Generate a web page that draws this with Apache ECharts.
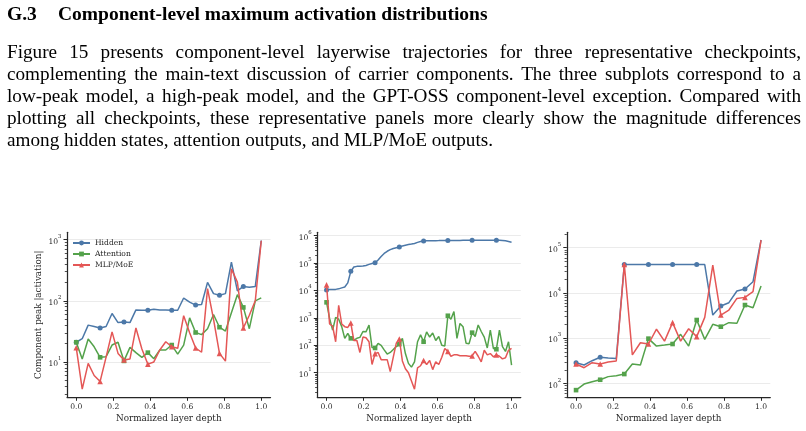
<!DOCTYPE html>
<html>
<head>
<meta charset="utf-8">
<script src="https://cdn.jsdelivr.net/npm/echarts@6/dist/echarts.min.js"></script>
<style>
  html, body { margin: 0; padding: 0; background: #fff; }
  body { width: 806px; height: 431px; position: relative; overflow: hidden; }
  #chart { position: absolute; left: 0; top: 0; width: 806px; height: 431px; }
  .head { position: absolute; left: 7px; top: 3px; font: bold 19.5px "Liberation Serif", serif; line-height: 22px; white-space: nowrap; color: #000; }
  .head span { display: inline-block; width: 51px; }
  .para { position: absolute; left: 7px; top: 41px; width: 794px; font: 19.2px "Liberation Serif", serif; line-height: 22px; color: #000; }
  .para div { white-space: nowrap; text-align: justify; text-align-last: justify; }
  .para div.last { text-align-last: left; }
</style>
</head>
<body>
<div id="chart"></div>
<div class="head"><span>G.3</span>Component-level maximum activation distributions</div>
<div class="para">
  <div>Figure 15 presents component-level layerwise trajectories for three representative checkpoints,</div>
  <div>complementing the main-text discussion of carrier components. The three subplots correspond to a</div>
  <div>low-peak model, a high-peak model, and the GPT-OSS component-level exception. Compared with</div>
  <div>plotting all checkpoints, these representative panels more clearly show the magnitude differences</div>
  <div class="last">among hidden states, attention outputs, and MLP/MoE outputs.</div>
</div>
<script>
// component names and tick values
const componentNames = ['Hidden', 'Attention', 'MLP/MoE']
const xTicks = [0, 0.2, 0.4, 0.6, 0.8, 1.0]

// low-peak model (32 layers)
const lowHidden = [21, 24, 40, 38, 36, 38, 62, 44, 45, 44, 71, 70, 70, 73, 71, 71, 70, 70, 111, 95, 85, 87, 200, 131, 123, 131, 428, 145, 172, 166, 172, 970]
const lowAttention = [21, 11.2, 23.7, 17.7, 11.9, 12.2, 18.9, 21, 10.4, 17.3, 14.2, 11.9, 14.2, 11.3, 15.7, 15.7, 18.9, 13.4, 18.9, 52.6, 30.3, 28, 35, 59.6, 37, 32, 64, 126, 78, 35, 100, 112]
const lowMlp = [17.1, 3.6, 9.5, 6.0, 4.8, 12, 31, 13.8, 10.8, 11.2, 36, 16.3, 9.2, 10, 15.7, 21.4, 17.7, 16.7, 57, 30, 16.9, 14.4, 158, 50, 13.8, 10.3, 333, 202, 36, 58, 100, 960]

// high-peak model (62 layers)
const highHidden = [
  10500, 10800, 11000, 11000, 11500, 12500, 13500, 19000, 50000, 72000,
  76000, 77000, 78000, 82000, 90000, 97000, 103000, 130000, 175000, 225000,
  270000, 310000, 340000, 365000, 390000, 420000, 450000, 475000, 495000, 520000,
  570000, 615000, 640000, 650000, 655000, 660000, 660000, 662000, 665000, 665000,
  668000, 670000, 670000, 672000, 672000, 675000, 675000, 675000, 678000, 678000,
  678000, 680000, 680000, 680000, 680000, 680000, 680000, 675000, 665000, 650000,
  615000, 580000
]
const highAttention = [
  3700, 960, 360, 1050, 900, 480, 180, 270, 180, 155,
  180, 195, 320, 310, 550, 83, 80, 117, 100, 68,
  48, 55, 70, 90, 110, 180, 50, 22, 16, 25,
  135, 240, 135, 310, 200, 280, 150, 210, 100, 95,
  1200, 900, 1700, 180, 630, 480, 120, 115, 290, 210,
  550, 320, 200, 80, 360, 77, 72, 360, 90, 60,
  135, 19
]
const highMlp = [
  16000, 600, 500, 135, 2900, 600, 480, 450, 650, 150,
  150, 55, 200, 190, 135, 20, 50, 55, 30, 30,
  30, 11, 37, 120, 170, 27, 14, 10, 5, 2.5,
  15, 18, 28, 20, 28, 13, 25, 20, 37, 77,
  60, 40, 45, 45, 42, 42, 42, 40, 41, 60,
  40, 25, 66, 45, 50, 38, 45, 40, 32, 35,
  66, 78
]

// GPT-OSS (24 layers)
const gptHidden = [290, 258, 321, 382, 368, 360, 42800, 42500, 42500, 42500, 42500, 42500, 42500, 42500, 42500, 42500, 42500, 3270, 5160, 6120, 11100, 12250, 17800, 148000]
const gptAttention = [72, 98, 110, 122, 143, 150, 163, 272, 258, 985, 675, 710, 750, 1225, 675, 2540, 950, 2040, 1810, 2220, 2150, 5430, 4740, 14250]
const gptMlp = [272, 225, 290, 272, 300, 316, 42800, 430, 800, 750, 1590, 870, 2220, 870, 1630, 1090, 2900, 41500, 3270, 4220, 7620, 8020, 10700, 148000]

const fontFamily = '"DejaVu Serif", serif'
const ink = '#262626'
const colors = ['#4c78a8', '#54a24b', '#e45756']
const symbols = ['circle', 'rect', 'triangle']
const symbolSizes = [5, 4.6, 5.6]

const panels = [
  { series: [lowHidden, lowAttention, lowMlp], yMin: 2.64, yMax: 1320, left: 67 },
  { series: [highHidden, highAttention, highMlp], yMin: 1.27, yMax: 1.33e6, left: 317.3 },
  { series: [gptHidden, gptAttention, gptMlp], yMin: 50, yMax: 2.19e5, left: 566.8 }
]

const logTicks = (min, max) => {
  const major = []
  const minor = []
  for (let k = Math.floor(Math.log10(min)); k <= Math.ceil(Math.log10(max)); k++) {
    const base = Math.pow(10, k)
    if (base >= min && base <= max) major.push(base)
    for (let m = 2; m <= 9; m++) {
      const v = m * base
      if (v >= min && v <= max) minor.push(v)
    }
  }
  return { major, minor }
}

const grid = []
const xAxis = []
const yAxis = []
const series = []

panels.forEach((p, g) => {
  const ticks = logTicks(p.yMin, p.yMax)
  grid.push({ left: p.left, top: 232.3, width: 203.5, height: 165, show: false })
  xAxis.push({
    type: 'value', gridIndex: g, min: -0.05, max: 1.05,
    axisLine: { show: true, onZero: false, lineStyle: { color: ink, width: 1.25 } },
    axisTick: { show: true, length: 3.5, customValues: xTicks, lineStyle: { color: ink, width: 1 } },
    axisLabel: { customValues: xTicks, formatter: (v) => v.toFixed(1), margin: 5.5, fontSize: 7.6, fontFamily, color: ink },
    splitLine: { show: false },
    name: 'Normalized layer depth', nameLocation: 'middle', nameGap: 17,
    nameTextStyle: { fontSize: 8.8, fontFamily, color: ink }
  })
  yAxis.push({
    type: 'log', gridIndex: g, min: p.yMin, max: p.yMax, logBase: 10, position: 'left',
    axisLine: { show: true, onZero: false, lineStyle: { color: ink, width: 1.25 } },
    axisTick: { show: true, length: 3.5, customValues: ticks.major, lineStyle: { color: ink, width: 1 } },
    axisLabel: {
      customValues: ticks.major, margin: 5.5,
      formatter: (v) => '{b|10}{s|' + Math.round(Math.log10(v)) + '}',
      rich: {
        b: { fontSize: 7.6, fontFamily, color: ink, lineHeight: 12, verticalAlign: 'bottom' },
        s: { fontSize: 5.4, fontFamily, color: ink, lineHeight: 7, verticalAlign: 'top' }
      }
    },
    splitLine: { show: true, lineStyle: { color: '#ebebeb', width: 1 } },
    name: g === 0 ? 'Component peak |activation|' : '',
    nameLocation: 'middle', nameGap: 24, nameRotate: 90,
    nameTextStyle: { fontSize: 8.8, fontFamily, color: ink }
  })
  // minor ticks of the log axis
  yAxis.push({
    type: 'log', gridIndex: g, min: p.yMin, max: p.yMax, logBase: 10, position: 'left', offset: 0,
    axisLine: { show: false, onZero: false },
    axisTick: { show: true, length: 2.2, customValues: ticks.minor, lineStyle: { color: ink, width: 0.8 } },
    axisLabel: { show: false },
    splitLine: { show: false }
  })
  p.series.forEach((values, c) => {
    const n = values.length
    const every = Math.max(1, Math.floor(n / 7))
    series.push({
      name: componentNames[c], type: 'line',
      xAxisIndex: g, yAxisIndex: g * 2,
      data: values.map((v, i) => [i / (n - 1), v]),
      symbol: symbols[c],
      symbolSize: (val, params) => (params.dataIndex % every === 0 ? symbolSizes[c] : 0),
      showAllSymbol: true,
      lineStyle: { color: colors[c], width: 1.5 },
      itemStyle: { color: colors[c] },
      emphasis: { disabled: true },
      z: 2 + c
    })
  })
})

const chart = echarts.init(document.getElementById('chart'))
chart.setOption({
  animation: false,
  grid, xAxis, yAxis, series,
  legend: {
    data: componentNames, left: 72, top: 239, orient: 'vertical', padding: 0,
    itemWidth: 17, itemHeight: 6, itemGap: 3, selectedMode: false,
    textStyle: { fontSize: 7.6, fontFamily, color: ink }
  }
})
</script>
</body>
</html>
